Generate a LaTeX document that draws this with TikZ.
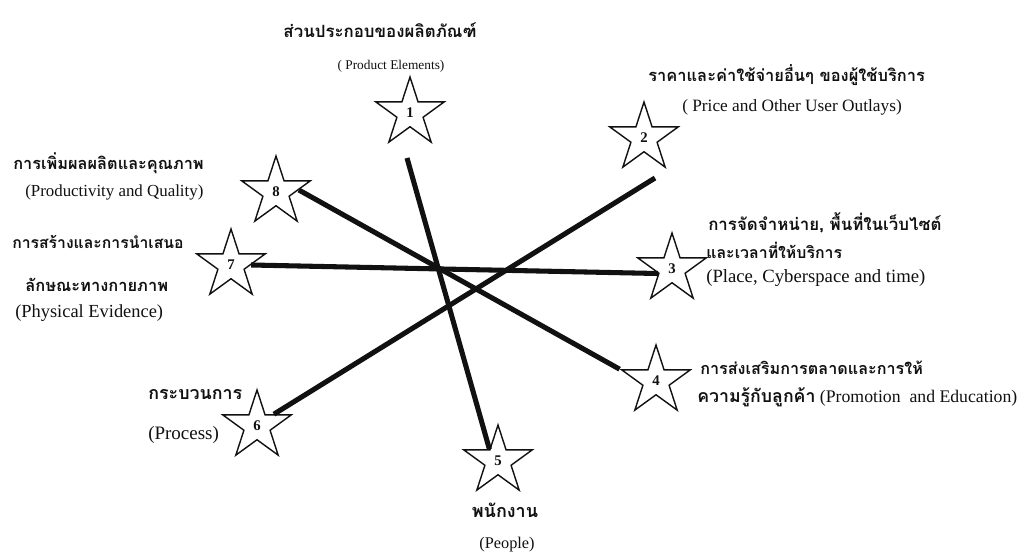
\documentclass[tikz,border=0pt]{standalone}
\usepackage{fontspec}
\setmainfont{Liberation Serif}
\newfontfamily\thaifont[Script=Thai]{Loma}
\usepackage{tikz}
\usetikzlibrary{shapes.geometric,calc}
\definecolor{cInk}{HTML}{111111}
\tikzset{
  pstar/.style={draw=cInk,star,star points=5,star point ratio=2.618,minimum size=1.8cm,inner sep=0pt,line width=1pt,font=\fontsize{10.5}{12}\selectfont\bfseries,text=cInk},
  bar/.style={line width=3.6pt,color=cInk},
  th/.style={font=\thaifont\bfseries\fontsize{#1}{#1}\selectfont,text=cInk,inner sep=0pt},
  th/.default=12,
  en/.style={font=\fontsize{#1}{#1}\selectfont,text=cInk,inner sep=0pt},
  en/.default=12,
}

\begin{document}
\begin{tikzpicture}[x=0.025cm,y=-0.025cm]
    \useasboundingbox[fill=white] (0,0) rectangle (1021,557);
    % the eight stars
    \node[pstar] (s1) at (410,113) {1};
    \node[pstar] (s2) at (644,138) {2};
    \node[pstar] (s3) at (672,269) {3};
    \node[pstar] (s4) at (656,381) {4};
    \node[pstar] (s5) at (498,461) {5};
    \node[pstar] (s6) at (257,426) {6};
    \node[pstar] (s7) at (231,265) {7};
    \node[pstar] (s8) at (276,192) {8};
    % labels
    \node[th] (t1) at (380,30) {ส่วนประกอบของผลิตภัณฑ์};
    \node[en=9.5] (e1) at (391,66) {( Product Elements)};
    \node[th=11.7,anchor=west] (t2) at (648,75) {ราคาและค่าใช้จ่ายอื่นๆ ของผู้ใช้บริการ};
    \node[en=12.3,anchor=west] (e2) at (682,107) {( Price and Other User Outlays)};
    \node[th,anchor=west] (t3a) at (708,223) {การจัดจำหน่าย, พื้นที่ในเว็บไซต์};
    \node[th=11.3,anchor=west] (t3b) at (706,250) {และเวลาที่ให้บริการ};
    \node[en=13.3,anchor=west] (e3) at (706,278) {(Place, Cyberspace and time)};
    \node[th=11.5,anchor=west] (t4a) at (700,368) {การส่งเสริมการตลาดและการให้};
    \node[en=12.6,anchor=west] (t4b) at (697,397) {{\thaifont\bfseries ความรู้กับลูกค้า} (Promotion\ \ and Education)};
    \node[th=12.8] (t5) at (505,510) {พนักงาน};
    \node[en=11.6] (e5) at (507,545) {(People)};
    \node[th=12.7,anchor=west] (t6) at (148,395) {กระบวนการ};
    \node[en=13.5,anchor=west] (e6) at (148,435) {(Process)};
    \node[th=11.2,anchor=west] (t7a) at (12,242) {การสร้างและการนำเสนอ};
    \node[th=11.7,anchor=west] (t7b) at (25,285) {ลักษณะทางกายภาพ};
    \node[en=13.1,anchor=west] (e7) at (15,313) {(Physical Evidence)};
    \node[th=11.6,anchor=west] (t8) at (13,163) {การเพิ่มผลผลิตและคุณภาพ};
    \node[en,anchor=west] (e8) at (25,192) {(Productivity and Quality)};
    % the four bars
    \draw[bar] ($(s1)+(-3,45)$) -- (s5.126);
    \draw[bar] ($(s2)+(11,40)$) -- (s6.35);
    \draw[bar] (s8.5) -- (s4.162);
    \draw[bar] (s7.0) -- (s3.198);
\end{tikzpicture}
\end{document}
